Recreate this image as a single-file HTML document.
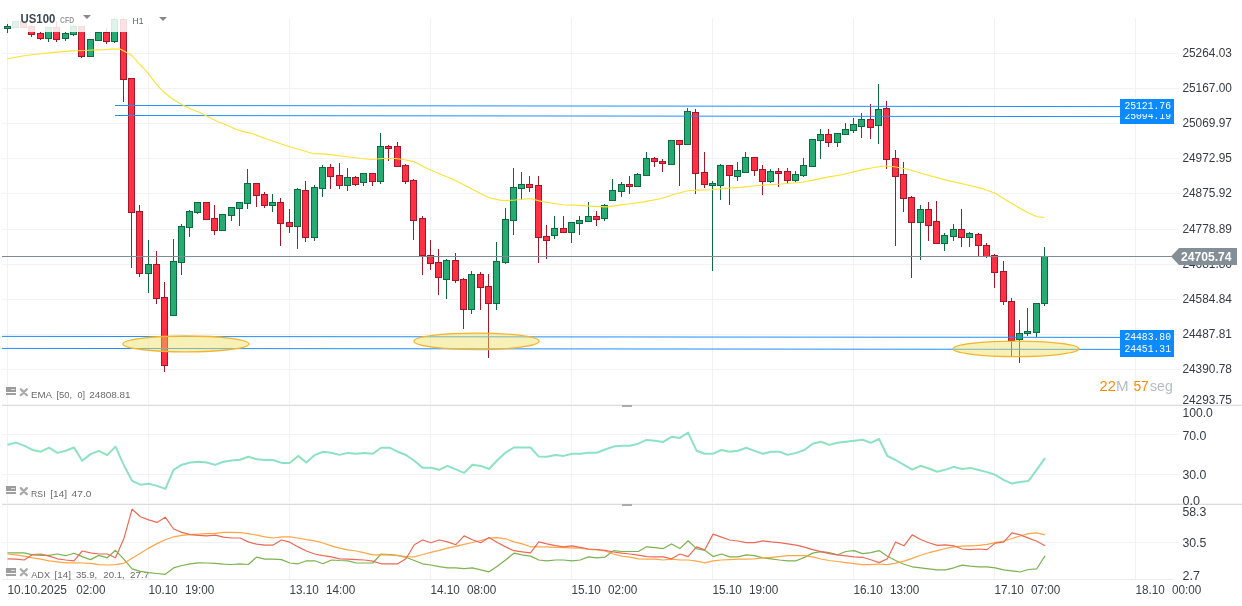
<!DOCTYPE html>
<html><head><meta charset="utf-8"><title>US100 H1</title><style>html,body{margin:0;padding:0;background:#fff;overflow:hidden}svg{display:block;will-change:transform}</style></head><body>
<svg width="1242" height="606" viewBox="0 0 1242 606" shape-rendering="crispEdges">
<rect width="1242" height="606" fill="#fff"/>
<line x1="7.5" y1="18" x2="7.5" y2="580" stroke="#f1f2f5" stroke-width="1"/>
<line x1="148.5" y1="18" x2="148.5" y2="580" stroke="#f1f2f5" stroke-width="1"/>
<line x1="289.5" y1="18" x2="289.5" y2="580" stroke="#f1f2f5" stroke-width="1"/>
<line x1="430.5" y1="18" x2="430.5" y2="580" stroke="#f1f2f5" stroke-width="1"/>
<line x1="571.5" y1="18" x2="571.5" y2="580" stroke="#f1f2f5" stroke-width="1"/>
<line x1="712.5" y1="18" x2="712.5" y2="580" stroke="#f1f2f5" stroke-width="1"/>
<line x1="853.5" y1="18" x2="853.5" y2="580" stroke="#f1f2f5" stroke-width="1"/>
<line x1="994.5" y1="18" x2="994.5" y2="580" stroke="#f1f2f5" stroke-width="1"/>
<line x1="1135.5" y1="18" x2="1135.5" y2="580" stroke="#f1f2f5" stroke-width="1"/>
<line x1="2" y1="53.5" x2="1179" y2="53.5" stroke="#f1f2f5"/>
<line x1="2" y1="88.5" x2="1179" y2="88.5" stroke="#f1f2f5"/>
<line x1="2" y1="123.5" x2="1179" y2="123.5" stroke="#f1f2f5"/>
<line x1="2" y1="158.5" x2="1179" y2="158.5" stroke="#f1f2f5"/>
<line x1="2" y1="193.5" x2="1179" y2="193.5" stroke="#f1f2f5"/>
<line x1="2" y1="229.5" x2="1179" y2="229.5" stroke="#f1f2f5"/>
<line x1="2" y1="264.5" x2="1179" y2="264.5" stroke="#f1f2f5"/>
<line x1="2" y1="299.5" x2="1179" y2="299.5" stroke="#f1f2f5"/>
<line x1="2" y1="334.5" x2="1179" y2="334.5" stroke="#f1f2f5"/>
<line x1="2" y1="369.5" x2="1179" y2="369.5" stroke="#f1f2f5"/>
<line x1="2" y1="434.5" x2="1179" y2="434.5" stroke="#f1f2f5"/>
<line x1="2" y1="474.5" x2="1179" y2="474.5" stroke="#f1f2f5"/>
<line x1="2" y1="542.5" x2="1179" y2="542.5" stroke="#f1f2f5"/>
<line x1="2" y1="404.5" x2="1242" y2="404.5" stroke="#f4f4f4"/>
<line x1="2" y1="405.5" x2="1242" y2="405.5" stroke="#dcdcdc"/>
<rect x="622" y="405" width="10" height="2" fill="#ababab"/>
<line x1="2" y1="503.5" x2="1242" y2="503.5" stroke="#f4f4f4"/>
<line x1="2" y1="504.5" x2="1242" y2="504.5" stroke="#dcdcdc"/>
<rect x="622" y="504" width="10" height="2" fill="#ababab"/>
<line x1="2" y1="579.5" x2="1174" y2="579.5" stroke="#ececec"/>
<rect x="7" y="24" width="1" height="2" fill="#0d6a3f"/>
<rect x="7" y="29" width="1" height="4" fill="#0d6a3f"/>
<rect x="4" y="26" width="7" height="3" fill="#0d6a3f"/>
<rect x="5" y="27" width="5" height="1" fill="#26ab72"/>
<rect x="12" y="21" width="7" height="7" fill="#0d6a3f"/>
<rect x="13" y="22" width="5" height="5" fill="#26ab72"/>
<rect x="20" y="21" width="7" height="7" fill="#a3172a"/>
<rect x="21" y="22" width="5" height="5" fill="#fd3044"/>
<rect x="31" y="25" width="1" height="1" fill="#a3172a"/>
<rect x="31" y="35" width="1" height="2" fill="#a3172a"/>
<rect x="28" y="26" width="7" height="9" fill="#a3172a"/>
<rect x="29" y="27" width="5" height="7" fill="#fd3044"/>
<rect x="40" y="32" width="1" height="1" fill="#a3172a"/>
<rect x="40" y="39" width="1" height="1" fill="#a3172a"/>
<rect x="37" y="33" width="7" height="6" fill="#a3172a"/>
<rect x="38" y="34" width="5" height="4" fill="#fd3044"/>
<rect x="48" y="39" width="1" height="3" fill="#0d6a3f"/>
<rect x="45" y="27" width="7" height="12" fill="#0d6a3f"/>
<rect x="46" y="28" width="5" height="10" fill="#26ab72"/>
<rect x="56" y="21" width="1" height="6" fill="#a3172a"/>
<rect x="56" y="40" width="1" height="2" fill="#a3172a"/>
<rect x="53" y="27" width="7" height="13" fill="#a3172a"/>
<rect x="54" y="28" width="5" height="11" fill="#fd3044"/>
<rect x="65" y="32" width="1" height="1" fill="#0d6a3f"/>
<rect x="65" y="39" width="1" height="2" fill="#0d6a3f"/>
<rect x="62" y="33" width="7" height="6" fill="#0d6a3f"/>
<rect x="63" y="34" width="5" height="4" fill="#26ab72"/>
<rect x="73" y="25" width="1" height="1" fill="#0d6a3f"/>
<rect x="73" y="35" width="1" height="1" fill="#0d6a3f"/>
<rect x="70" y="26" width="7" height="9" fill="#0d6a3f"/>
<rect x="71" y="27" width="5" height="7" fill="#26ab72"/>
<rect x="81" y="57" width="1" height="1" fill="#a3172a"/>
<rect x="78" y="26" width="7" height="31" fill="#a3172a"/>
<rect x="79" y="27" width="5" height="29" fill="#fd3044"/>
<rect x="87" y="39" width="7" height="18" fill="#0d6a3f"/>
<rect x="88" y="40" width="5" height="16" fill="#26ab72"/>
<rect x="95" y="32" width="7" height="9" fill="#0d6a3f"/>
<rect x="96" y="33" width="5" height="7" fill="#26ab72"/>
<rect x="106" y="28" width="1" height="4" fill="#a3172a"/>
<rect x="106" y="42" width="1" height="2" fill="#a3172a"/>
<rect x="103" y="32" width="7" height="10" fill="#a3172a"/>
<rect x="104" y="33" width="5" height="8" fill="#fd3044"/>
<rect x="114" y="18" width="1" height="1" fill="#0d6a3f"/>
<rect x="114" y="42" width="1" height="1" fill="#0d6a3f"/>
<rect x="111" y="19" width="7" height="23" fill="#0d6a3f"/>
<rect x="112" y="20" width="5" height="21" fill="#26ab72"/>
<rect x="123" y="18" width="1" height="1" fill="#a3172a"/>
<rect x="123" y="80" width="1" height="22" fill="#a3172a"/>
<rect x="120" y="19" width="7" height="61" fill="#a3172a"/>
<rect x="121" y="20" width="5" height="59" fill="#fd3044"/>
<rect x="131" y="213" width="1" height="55" fill="#a3172a"/>
<rect x="128" y="78" width="7" height="135" fill="#a3172a"/>
<rect x="129" y="79" width="5" height="133" fill="#fd3044"/>
<rect x="139" y="205" width="1" height="6" fill="#a3172a"/>
<rect x="139" y="274" width="1" height="3" fill="#a3172a"/>
<rect x="136" y="211" width="7" height="63" fill="#a3172a"/>
<rect x="137" y="212" width="5" height="61" fill="#fd3044"/>
<rect x="148" y="240" width="1" height="24" fill="#0d6a3f"/>
<rect x="148" y="274" width="1" height="19" fill="#0d6a3f"/>
<rect x="145" y="264" width="7" height="10" fill="#0d6a3f"/>
<rect x="146" y="265" width="5" height="8" fill="#26ab72"/>
<rect x="156" y="251" width="1" height="13" fill="#a3172a"/>
<rect x="156" y="299" width="1" height="5" fill="#a3172a"/>
<rect x="153" y="264" width="7" height="35" fill="#a3172a"/>
<rect x="154" y="265" width="5" height="33" fill="#fd3044"/>
<rect x="164" y="282" width="1" height="15" fill="#a3172a"/>
<rect x="164" y="366" width="1" height="6" fill="#a3172a"/>
<rect x="161" y="297" width="7" height="69" fill="#a3172a"/>
<rect x="162" y="298" width="5" height="67" fill="#fd3044"/>
<rect x="173" y="239" width="1" height="22" fill="#0d6a3f"/>
<rect x="170" y="261" width="7" height="55" fill="#0d6a3f"/>
<rect x="171" y="262" width="5" height="53" fill="#26ab72"/>
<rect x="181" y="224" width="1" height="2" fill="#0d6a3f"/>
<rect x="181" y="263" width="1" height="12" fill="#0d6a3f"/>
<rect x="178" y="226" width="7" height="37" fill="#0d6a3f"/>
<rect x="179" y="227" width="5" height="35" fill="#26ab72"/>
<rect x="189" y="210" width="1" height="1" fill="#0d6a3f"/>
<rect x="189" y="228" width="1" height="9" fill="#0d6a3f"/>
<rect x="186" y="211" width="7" height="17" fill="#0d6a3f"/>
<rect x="187" y="212" width="5" height="15" fill="#26ab72"/>
<rect x="197" y="213" width="1" height="1" fill="#0d6a3f"/>
<rect x="194" y="202" width="7" height="11" fill="#0d6a3f"/>
<rect x="195" y="203" width="5" height="9" fill="#26ab72"/>
<rect x="203" y="202" width="7" height="18" fill="#a3172a"/>
<rect x="204" y="203" width="5" height="16" fill="#fd3044"/>
<rect x="214" y="205" width="1" height="13" fill="#a3172a"/>
<rect x="214" y="231" width="1" height="4" fill="#a3172a"/>
<rect x="211" y="218" width="7" height="13" fill="#a3172a"/>
<rect x="212" y="219" width="5" height="11" fill="#fd3044"/>
<rect x="219" y="214" width="7" height="17" fill="#0d6a3f"/>
<rect x="220" y="215" width="5" height="15" fill="#26ab72"/>
<rect x="231" y="216" width="1" height="5" fill="#0d6a3f"/>
<rect x="228" y="207" width="7" height="9" fill="#0d6a3f"/>
<rect x="229" y="208" width="5" height="7" fill="#26ab72"/>
<rect x="239" y="209" width="1" height="17" fill="#0d6a3f"/>
<rect x="236" y="202" width="7" height="7" fill="#0d6a3f"/>
<rect x="237" y="203" width="5" height="5" fill="#26ab72"/>
<rect x="247" y="169" width="1" height="14" fill="#0d6a3f"/>
<rect x="247" y="204" width="1" height="5" fill="#0d6a3f"/>
<rect x="244" y="183" width="7" height="21" fill="#0d6a3f"/>
<rect x="245" y="184" width="5" height="19" fill="#26ab72"/>
<rect x="256" y="196" width="1" height="11" fill="#a3172a"/>
<rect x="253" y="183" width="7" height="13" fill="#a3172a"/>
<rect x="254" y="184" width="5" height="11" fill="#fd3044"/>
<rect x="264" y="192" width="1" height="2" fill="#a3172a"/>
<rect x="264" y="206" width="1" height="2" fill="#a3172a"/>
<rect x="261" y="194" width="7" height="12" fill="#a3172a"/>
<rect x="262" y="195" width="5" height="10" fill="#fd3044"/>
<rect x="272" y="194" width="1" height="8" fill="#0d6a3f"/>
<rect x="272" y="206" width="1" height="6" fill="#0d6a3f"/>
<rect x="269" y="202" width="7" height="4" fill="#0d6a3f"/>
<rect x="270" y="203" width="5" height="2" fill="#26ab72"/>
<rect x="280" y="198" width="1" height="4" fill="#a3172a"/>
<rect x="280" y="224" width="1" height="22" fill="#a3172a"/>
<rect x="277" y="202" width="7" height="22" fill="#a3172a"/>
<rect x="278" y="203" width="5" height="20" fill="#fd3044"/>
<rect x="289" y="209" width="1" height="13" fill="#a3172a"/>
<rect x="289" y="227" width="1" height="6" fill="#a3172a"/>
<rect x="286" y="222" width="7" height="5" fill="#a3172a"/>
<rect x="287" y="223" width="5" height="3" fill="#fd3044"/>
<rect x="297" y="188" width="1" height="1" fill="#0d6a3f"/>
<rect x="297" y="227" width="1" height="22" fill="#0d6a3f"/>
<rect x="294" y="189" width="7" height="38" fill="#0d6a3f"/>
<rect x="295" y="190" width="5" height="36" fill="#26ab72"/>
<rect x="305" y="181" width="1" height="9" fill="#a3172a"/>
<rect x="305" y="238" width="1" height="4" fill="#a3172a"/>
<rect x="302" y="190" width="7" height="48" fill="#a3172a"/>
<rect x="303" y="191" width="5" height="46" fill="#fd3044"/>
<rect x="314" y="185" width="1" height="2" fill="#0d6a3f"/>
<rect x="314" y="238" width="1" height="3" fill="#0d6a3f"/>
<rect x="311" y="187" width="7" height="51" fill="#0d6a3f"/>
<rect x="312" y="188" width="5" height="49" fill="#26ab72"/>
<rect x="322" y="165" width="1" height="2" fill="#0d6a3f"/>
<rect x="322" y="189" width="1" height="8" fill="#0d6a3f"/>
<rect x="319" y="167" width="7" height="22" fill="#0d6a3f"/>
<rect x="320" y="168" width="5" height="20" fill="#26ab72"/>
<rect x="330" y="164" width="1" height="3" fill="#a3172a"/>
<rect x="330" y="177" width="1" height="12" fill="#a3172a"/>
<rect x="327" y="167" width="7" height="10" fill="#a3172a"/>
<rect x="328" y="168" width="5" height="8" fill="#fd3044"/>
<rect x="339" y="163" width="1" height="12" fill="#a3172a"/>
<rect x="339" y="186" width="1" height="3" fill="#a3172a"/>
<rect x="336" y="175" width="7" height="11" fill="#a3172a"/>
<rect x="337" y="176" width="5" height="9" fill="#fd3044"/>
<rect x="347" y="168" width="1" height="9" fill="#0d6a3f"/>
<rect x="347" y="186" width="1" height="5" fill="#0d6a3f"/>
<rect x="344" y="177" width="7" height="9" fill="#0d6a3f"/>
<rect x="345" y="178" width="5" height="7" fill="#26ab72"/>
<rect x="355" y="176" width="1" height="1" fill="#a3172a"/>
<rect x="355" y="185" width="1" height="1" fill="#a3172a"/>
<rect x="352" y="177" width="7" height="8" fill="#a3172a"/>
<rect x="353" y="178" width="5" height="6" fill="#fd3044"/>
<rect x="363" y="183" width="1" height="3" fill="#0d6a3f"/>
<rect x="360" y="173" width="7" height="10" fill="#0d6a3f"/>
<rect x="361" y="174" width="5" height="8" fill="#26ab72"/>
<rect x="372" y="182" width="1" height="4" fill="#a3172a"/>
<rect x="369" y="173" width="7" height="9" fill="#a3172a"/>
<rect x="370" y="174" width="5" height="7" fill="#fd3044"/>
<rect x="380" y="133" width="1" height="13" fill="#0d6a3f"/>
<rect x="380" y="182" width="1" height="2" fill="#0d6a3f"/>
<rect x="377" y="146" width="7" height="36" fill="#0d6a3f"/>
<rect x="378" y="147" width="5" height="34" fill="#26ab72"/>
<rect x="388" y="145" width="1" height="1" fill="#a3172a"/>
<rect x="388" y="149" width="1" height="12" fill="#a3172a"/>
<rect x="385" y="146" width="7" height="3" fill="#a3172a"/>
<rect x="386" y="147" width="5" height="1" fill="#fd3044"/>
<rect x="397" y="142" width="1" height="4" fill="#a3172a"/>
<rect x="394" y="146" width="7" height="21" fill="#a3172a"/>
<rect x="395" y="147" width="5" height="19" fill="#fd3044"/>
<rect x="405" y="164" width="1" height="1" fill="#a3172a"/>
<rect x="405" y="182" width="1" height="2" fill="#a3172a"/>
<rect x="402" y="165" width="7" height="17" fill="#a3172a"/>
<rect x="403" y="166" width="5" height="15" fill="#fd3044"/>
<rect x="413" y="179" width="1" height="1" fill="#a3172a"/>
<rect x="413" y="221" width="1" height="19" fill="#a3172a"/>
<rect x="410" y="180" width="7" height="41" fill="#a3172a"/>
<rect x="411" y="181" width="5" height="39" fill="#fd3044"/>
<rect x="422" y="216" width="1" height="2" fill="#a3172a"/>
<rect x="422" y="256" width="1" height="19" fill="#a3172a"/>
<rect x="419" y="218" width="7" height="38" fill="#a3172a"/>
<rect x="420" y="219" width="5" height="36" fill="#fd3044"/>
<rect x="430" y="240" width="1" height="15" fill="#a3172a"/>
<rect x="430" y="264" width="1" height="6" fill="#a3172a"/>
<rect x="427" y="255" width="7" height="9" fill="#a3172a"/>
<rect x="428" y="256" width="5" height="7" fill="#fd3044"/>
<rect x="438" y="249" width="1" height="13" fill="#a3172a"/>
<rect x="438" y="278" width="1" height="17" fill="#a3172a"/>
<rect x="435" y="262" width="7" height="16" fill="#a3172a"/>
<rect x="436" y="263" width="5" height="14" fill="#fd3044"/>
<rect x="446" y="259" width="1" height="1" fill="#0d6a3f"/>
<rect x="446" y="280" width="1" height="19" fill="#0d6a3f"/>
<rect x="443" y="260" width="7" height="20" fill="#0d6a3f"/>
<rect x="444" y="261" width="5" height="18" fill="#26ab72"/>
<rect x="455" y="253" width="1" height="7" fill="#a3172a"/>
<rect x="455" y="281" width="1" height="2" fill="#a3172a"/>
<rect x="452" y="260" width="7" height="21" fill="#a3172a"/>
<rect x="453" y="261" width="5" height="19" fill="#fd3044"/>
<rect x="463" y="278" width="1" height="1" fill="#a3172a"/>
<rect x="463" y="310" width="1" height="19" fill="#a3172a"/>
<rect x="460" y="279" width="7" height="31" fill="#a3172a"/>
<rect x="461" y="280" width="5" height="29" fill="#fd3044"/>
<rect x="471" y="271" width="1" height="3" fill="#0d6a3f"/>
<rect x="471" y="310" width="1" height="4" fill="#0d6a3f"/>
<rect x="468" y="274" width="7" height="36" fill="#0d6a3f"/>
<rect x="469" y="275" width="5" height="34" fill="#26ab72"/>
<rect x="480" y="272" width="1" height="2" fill="#a3172a"/>
<rect x="480" y="288" width="1" height="22" fill="#a3172a"/>
<rect x="477" y="274" width="7" height="14" fill="#a3172a"/>
<rect x="478" y="275" width="5" height="12" fill="#fd3044"/>
<rect x="488" y="274" width="1" height="12" fill="#a3172a"/>
<rect x="488" y="304" width="1" height="54" fill="#a3172a"/>
<rect x="485" y="286" width="7" height="18" fill="#a3172a"/>
<rect x="486" y="287" width="5" height="16" fill="#fd3044"/>
<rect x="496" y="242" width="1" height="19" fill="#0d6a3f"/>
<rect x="496" y="304" width="1" height="6" fill="#0d6a3f"/>
<rect x="493" y="261" width="7" height="43" fill="#0d6a3f"/>
<rect x="494" y="262" width="5" height="41" fill="#26ab72"/>
<rect x="505" y="208" width="1" height="11" fill="#0d6a3f"/>
<rect x="505" y="263" width="1" height="1" fill="#0d6a3f"/>
<rect x="502" y="219" width="7" height="44" fill="#0d6a3f"/>
<rect x="503" y="220" width="5" height="42" fill="#26ab72"/>
<rect x="513" y="168" width="1" height="19" fill="#0d6a3f"/>
<rect x="513" y="221" width="1" height="14" fill="#0d6a3f"/>
<rect x="510" y="187" width="7" height="34" fill="#0d6a3f"/>
<rect x="511" y="188" width="5" height="32" fill="#26ab72"/>
<rect x="521" y="172" width="1" height="12" fill="#0d6a3f"/>
<rect x="521" y="189" width="1" height="11" fill="#0d6a3f"/>
<rect x="518" y="184" width="7" height="5" fill="#0d6a3f"/>
<rect x="519" y="185" width="5" height="3" fill="#26ab72"/>
<rect x="529" y="176" width="1" height="8" fill="#a3172a"/>
<rect x="529" y="188" width="1" height="4" fill="#a3172a"/>
<rect x="526" y="184" width="7" height="4" fill="#a3172a"/>
<rect x="527" y="185" width="5" height="2" fill="#fd3044"/>
<rect x="538" y="176" width="1" height="9" fill="#a3172a"/>
<rect x="538" y="238" width="1" height="25" fill="#a3172a"/>
<rect x="535" y="185" width="7" height="53" fill="#a3172a"/>
<rect x="536" y="186" width="5" height="51" fill="#fd3044"/>
<rect x="546" y="225" width="1" height="11" fill="#a3172a"/>
<rect x="546" y="241" width="1" height="18" fill="#a3172a"/>
<rect x="543" y="236" width="7" height="5" fill="#a3172a"/>
<rect x="544" y="237" width="5" height="3" fill="#fd3044"/>
<rect x="554" y="216" width="1" height="12" fill="#0d6a3f"/>
<rect x="554" y="236" width="1" height="3" fill="#0d6a3f"/>
<rect x="551" y="228" width="7" height="8" fill="#0d6a3f"/>
<rect x="552" y="229" width="5" height="6" fill="#26ab72"/>
<rect x="563" y="216" width="1" height="12" fill="#a3172a"/>
<rect x="560" y="228" width="7" height="5" fill="#a3172a"/>
<rect x="561" y="229" width="5" height="3" fill="#fd3044"/>
<rect x="571" y="233" width="1" height="10" fill="#0d6a3f"/>
<rect x="568" y="222" width="7" height="11" fill="#0d6a3f"/>
<rect x="569" y="223" width="5" height="9" fill="#26ab72"/>
<rect x="579" y="216" width="1" height="4" fill="#0d6a3f"/>
<rect x="579" y="224" width="1" height="11" fill="#0d6a3f"/>
<rect x="576" y="220" width="7" height="4" fill="#0d6a3f"/>
<rect x="577" y="221" width="5" height="2" fill="#26ab72"/>
<rect x="588" y="202" width="1" height="14" fill="#0d6a3f"/>
<rect x="585" y="216" width="7" height="6" fill="#0d6a3f"/>
<rect x="586" y="217" width="5" height="4" fill="#26ab72"/>
<rect x="596" y="211" width="1" height="5" fill="#a3172a"/>
<rect x="596" y="220" width="1" height="6" fill="#a3172a"/>
<rect x="593" y="216" width="7" height="4" fill="#a3172a"/>
<rect x="594" y="217" width="5" height="2" fill="#fd3044"/>
<rect x="604" y="204" width="1" height="1" fill="#0d6a3f"/>
<rect x="604" y="219" width="1" height="2" fill="#0d6a3f"/>
<rect x="601" y="205" width="7" height="14" fill="#0d6a3f"/>
<rect x="602" y="206" width="5" height="12" fill="#26ab72"/>
<rect x="612" y="179" width="1" height="11" fill="#0d6a3f"/>
<rect x="609" y="190" width="7" height="11" fill="#0d6a3f"/>
<rect x="610" y="191" width="5" height="9" fill="#26ab72"/>
<rect x="621" y="182" width="1" height="2" fill="#0d6a3f"/>
<rect x="621" y="192" width="1" height="5" fill="#0d6a3f"/>
<rect x="618" y="184" width="7" height="8" fill="#0d6a3f"/>
<rect x="619" y="185" width="5" height="6" fill="#26ab72"/>
<rect x="629" y="176" width="1" height="8" fill="#a3172a"/>
<rect x="629" y="187" width="1" height="7" fill="#a3172a"/>
<rect x="626" y="184" width="7" height="3" fill="#a3172a"/>
<rect x="627" y="185" width="5" height="1" fill="#fd3044"/>
<rect x="637" y="173" width="1" height="1" fill="#0d6a3f"/>
<rect x="634" y="174" width="7" height="13" fill="#0d6a3f"/>
<rect x="635" y="175" width="5" height="11" fill="#26ab72"/>
<rect x="646" y="152" width="1" height="6" fill="#0d6a3f"/>
<rect x="643" y="158" width="7" height="18" fill="#0d6a3f"/>
<rect x="644" y="159" width="5" height="16" fill="#26ab72"/>
<rect x="654" y="157" width="1" height="1" fill="#a3172a"/>
<rect x="654" y="162" width="1" height="5" fill="#a3172a"/>
<rect x="651" y="158" width="7" height="4" fill="#a3172a"/>
<rect x="652" y="159" width="5" height="2" fill="#fd3044"/>
<rect x="662" y="159" width="1" height="2" fill="#a3172a"/>
<rect x="662" y="164" width="1" height="8" fill="#a3172a"/>
<rect x="659" y="161" width="7" height="3" fill="#a3172a"/>
<rect x="660" y="162" width="5" height="1" fill="#fd3044"/>
<rect x="668" y="140" width="7" height="25" fill="#0d6a3f"/>
<rect x="669" y="141" width="5" height="23" fill="#26ab72"/>
<rect x="679" y="145" width="1" height="41" fill="#a3172a"/>
<rect x="676" y="140" width="7" height="5" fill="#a3172a"/>
<rect x="677" y="141" width="5" height="3" fill="#fd3044"/>
<rect x="687" y="108" width="1" height="3" fill="#0d6a3f"/>
<rect x="684" y="111" width="7" height="34" fill="#0d6a3f"/>
<rect x="685" y="112" width="5" height="32" fill="#26ab72"/>
<rect x="695" y="109" width="1" height="3" fill="#a3172a"/>
<rect x="695" y="174" width="1" height="20" fill="#a3172a"/>
<rect x="692" y="112" width="7" height="62" fill="#a3172a"/>
<rect x="693" y="113" width="5" height="60" fill="#fd3044"/>
<rect x="704" y="152" width="1" height="20" fill="#a3172a"/>
<rect x="704" y="185" width="1" height="3" fill="#a3172a"/>
<rect x="701" y="172" width="7" height="13" fill="#a3172a"/>
<rect x="702" y="173" width="5" height="11" fill="#fd3044"/>
<rect x="712" y="181" width="1" height="2" fill="#0d6a3f"/>
<rect x="712" y="186" width="1" height="85" fill="#0d6a3f"/>
<rect x="709" y="183" width="7" height="3" fill="#0d6a3f"/>
<rect x="710" y="184" width="5" height="1" fill="#26ab72"/>
<rect x="720" y="164" width="1" height="1" fill="#0d6a3f"/>
<rect x="720" y="186" width="1" height="14" fill="#0d6a3f"/>
<rect x="717" y="165" width="7" height="21" fill="#0d6a3f"/>
<rect x="718" y="166" width="5" height="19" fill="#26ab72"/>
<rect x="729" y="176" width="1" height="29" fill="#a3172a"/>
<rect x="726" y="165" width="7" height="11" fill="#a3172a"/>
<rect x="727" y="166" width="5" height="9" fill="#fd3044"/>
<rect x="737" y="162" width="1" height="8" fill="#0d6a3f"/>
<rect x="737" y="177" width="1" height="4" fill="#0d6a3f"/>
<rect x="734" y="170" width="7" height="7" fill="#0d6a3f"/>
<rect x="735" y="171" width="5" height="5" fill="#26ab72"/>
<rect x="745" y="152" width="1" height="5" fill="#0d6a3f"/>
<rect x="742" y="157" width="7" height="16" fill="#0d6a3f"/>
<rect x="743" y="158" width="5" height="14" fill="#26ab72"/>
<rect x="754" y="171" width="1" height="5" fill="#a3172a"/>
<rect x="751" y="157" width="7" height="14" fill="#a3172a"/>
<rect x="752" y="158" width="5" height="12" fill="#fd3044"/>
<rect x="762" y="165" width="1" height="4" fill="#a3172a"/>
<rect x="762" y="182" width="1" height="13" fill="#a3172a"/>
<rect x="759" y="169" width="7" height="13" fill="#a3172a"/>
<rect x="760" y="170" width="5" height="11" fill="#fd3044"/>
<rect x="770" y="169" width="1" height="2" fill="#0d6a3f"/>
<rect x="770" y="182" width="1" height="1" fill="#0d6a3f"/>
<rect x="767" y="171" width="7" height="11" fill="#0d6a3f"/>
<rect x="768" y="172" width="5" height="9" fill="#26ab72"/>
<rect x="778" y="168" width="1" height="3" fill="#a3172a"/>
<rect x="778" y="174" width="1" height="13" fill="#a3172a"/>
<rect x="775" y="171" width="7" height="3" fill="#a3172a"/>
<rect x="776" y="172" width="5" height="1" fill="#fd3044"/>
<rect x="787" y="168" width="1" height="3" fill="#a3172a"/>
<rect x="787" y="181" width="1" height="2" fill="#a3172a"/>
<rect x="784" y="171" width="7" height="10" fill="#a3172a"/>
<rect x="785" y="172" width="5" height="8" fill="#fd3044"/>
<rect x="795" y="171" width="1" height="3" fill="#0d6a3f"/>
<rect x="795" y="181" width="1" height="1" fill="#0d6a3f"/>
<rect x="792" y="174" width="7" height="7" fill="#0d6a3f"/>
<rect x="793" y="175" width="5" height="5" fill="#26ab72"/>
<rect x="803" y="158" width="1" height="7" fill="#0d6a3f"/>
<rect x="803" y="176" width="1" height="1" fill="#0d6a3f"/>
<rect x="800" y="165" width="7" height="11" fill="#0d6a3f"/>
<rect x="801" y="166" width="5" height="9" fill="#26ab72"/>
<rect x="809" y="139" width="7" height="28" fill="#0d6a3f"/>
<rect x="810" y="140" width="5" height="26" fill="#26ab72"/>
<rect x="820" y="129" width="1" height="5" fill="#0d6a3f"/>
<rect x="820" y="141" width="1" height="18" fill="#0d6a3f"/>
<rect x="817" y="134" width="7" height="7" fill="#0d6a3f"/>
<rect x="818" y="135" width="5" height="5" fill="#26ab72"/>
<rect x="828" y="129" width="1" height="5" fill="#a3172a"/>
<rect x="828" y="143" width="1" height="4" fill="#a3172a"/>
<rect x="825" y="134" width="7" height="9" fill="#a3172a"/>
<rect x="826" y="135" width="5" height="7" fill="#fd3044"/>
<rect x="837" y="143" width="1" height="4" fill="#0d6a3f"/>
<rect x="834" y="133" width="7" height="10" fill="#0d6a3f"/>
<rect x="835" y="134" width="5" height="8" fill="#26ab72"/>
<rect x="845" y="123" width="1" height="6" fill="#0d6a3f"/>
<rect x="842" y="129" width="7" height="6" fill="#0d6a3f"/>
<rect x="843" y="130" width="5" height="4" fill="#26ab72"/>
<rect x="853" y="118" width="1" height="6" fill="#0d6a3f"/>
<rect x="853" y="131" width="1" height="2" fill="#0d6a3f"/>
<rect x="850" y="124" width="7" height="7" fill="#0d6a3f"/>
<rect x="851" y="125" width="5" height="5" fill="#26ab72"/>
<rect x="861" y="113" width="1" height="6" fill="#0d6a3f"/>
<rect x="861" y="127" width="1" height="11" fill="#0d6a3f"/>
<rect x="858" y="119" width="7" height="8" fill="#0d6a3f"/>
<rect x="859" y="120" width="5" height="6" fill="#26ab72"/>
<rect x="870" y="104" width="1" height="15" fill="#a3172a"/>
<rect x="870" y="128" width="1" height="11" fill="#a3172a"/>
<rect x="867" y="119" width="7" height="9" fill="#a3172a"/>
<rect x="868" y="120" width="5" height="7" fill="#fd3044"/>
<rect x="878" y="84" width="1" height="25" fill="#0d6a3f"/>
<rect x="878" y="126" width="1" height="18" fill="#0d6a3f"/>
<rect x="875" y="109" width="7" height="17" fill="#0d6a3f"/>
<rect x="876" y="110" width="5" height="15" fill="#26ab72"/>
<rect x="886" y="101" width="1" height="7" fill="#a3172a"/>
<rect x="886" y="160" width="1" height="9" fill="#a3172a"/>
<rect x="883" y="108" width="7" height="52" fill="#a3172a"/>
<rect x="884" y="109" width="5" height="50" fill="#fd3044"/>
<rect x="895" y="150" width="1" height="8" fill="#a3172a"/>
<rect x="895" y="177" width="1" height="69" fill="#a3172a"/>
<rect x="892" y="158" width="7" height="19" fill="#a3172a"/>
<rect x="893" y="159" width="5" height="17" fill="#fd3044"/>
<rect x="903" y="162" width="1" height="12" fill="#a3172a"/>
<rect x="903" y="199" width="1" height="13" fill="#a3172a"/>
<rect x="900" y="174" width="7" height="25" fill="#a3172a"/>
<rect x="901" y="175" width="5" height="23" fill="#fd3044"/>
<rect x="911" y="196" width="1" height="1" fill="#a3172a"/>
<rect x="911" y="223" width="1" height="55" fill="#a3172a"/>
<rect x="908" y="197" width="7" height="26" fill="#a3172a"/>
<rect x="909" y="198" width="5" height="24" fill="#fd3044"/>
<rect x="920" y="205" width="1" height="4" fill="#0d6a3f"/>
<rect x="920" y="223" width="1" height="37" fill="#0d6a3f"/>
<rect x="917" y="209" width="7" height="14" fill="#0d6a3f"/>
<rect x="918" y="210" width="5" height="12" fill="#26ab72"/>
<rect x="928" y="202" width="1" height="7" fill="#a3172a"/>
<rect x="928" y="226" width="1" height="15" fill="#a3172a"/>
<rect x="925" y="209" width="7" height="17" fill="#a3172a"/>
<rect x="926" y="210" width="5" height="15" fill="#fd3044"/>
<rect x="936" y="201" width="1" height="20" fill="#a3172a"/>
<rect x="933" y="221" width="7" height="23" fill="#a3172a"/>
<rect x="934" y="222" width="5" height="21" fill="#fd3044"/>
<rect x="944" y="233" width="1" height="2" fill="#0d6a3f"/>
<rect x="944" y="244" width="1" height="7" fill="#0d6a3f"/>
<rect x="941" y="235" width="7" height="9" fill="#0d6a3f"/>
<rect x="942" y="236" width="5" height="7" fill="#26ab72"/>
<rect x="953" y="224" width="1" height="5" fill="#0d6a3f"/>
<rect x="953" y="237" width="1" height="4" fill="#0d6a3f"/>
<rect x="950" y="229" width="7" height="8" fill="#0d6a3f"/>
<rect x="951" y="230" width="5" height="6" fill="#26ab72"/>
<rect x="961" y="209" width="1" height="20" fill="#a3172a"/>
<rect x="961" y="238" width="1" height="9" fill="#a3172a"/>
<rect x="958" y="229" width="7" height="9" fill="#a3172a"/>
<rect x="959" y="230" width="5" height="7" fill="#fd3044"/>
<rect x="969" y="232" width="1" height="1" fill="#0d6a3f"/>
<rect x="969" y="238" width="1" height="9" fill="#0d6a3f"/>
<rect x="966" y="233" width="7" height="5" fill="#0d6a3f"/>
<rect x="967" y="234" width="5" height="3" fill="#26ab72"/>
<rect x="978" y="233" width="1" height="1" fill="#a3172a"/>
<rect x="978" y="246" width="1" height="10" fill="#a3172a"/>
<rect x="975" y="234" width="7" height="12" fill="#a3172a"/>
<rect x="976" y="235" width="5" height="10" fill="#fd3044"/>
<rect x="986" y="243" width="1" height="2" fill="#a3172a"/>
<rect x="986" y="257" width="1" height="1" fill="#a3172a"/>
<rect x="983" y="245" width="7" height="12" fill="#a3172a"/>
<rect x="984" y="246" width="5" height="10" fill="#fd3044"/>
<rect x="994" y="254" width="1" height="1" fill="#a3172a"/>
<rect x="994" y="273" width="1" height="15" fill="#a3172a"/>
<rect x="991" y="255" width="7" height="18" fill="#a3172a"/>
<rect x="992" y="256" width="5" height="16" fill="#fd3044"/>
<rect x="1003" y="261" width="1" height="10" fill="#a3172a"/>
<rect x="1003" y="302" width="1" height="3" fill="#a3172a"/>
<rect x="1000" y="271" width="7" height="31" fill="#a3172a"/>
<rect x="1001" y="272" width="5" height="29" fill="#fd3044"/>
<rect x="1011" y="298" width="1" height="3" fill="#a3172a"/>
<rect x="1011" y="341" width="1" height="16" fill="#a3172a"/>
<rect x="1008" y="301" width="7" height="40" fill="#a3172a"/>
<rect x="1009" y="302" width="5" height="38" fill="#fd3044"/>
<rect x="1019" y="320" width="1" height="13" fill="#0d6a3f"/>
<rect x="1019" y="340" width="1" height="23" fill="#0d6a3f"/>
<rect x="1016" y="333" width="7" height="7" fill="#0d6a3f"/>
<rect x="1017" y="334" width="5" height="5" fill="#26ab72"/>
<rect x="1027" y="308" width="1" height="23" fill="#0d6a3f"/>
<rect x="1027" y="334" width="1" height="2" fill="#0d6a3f"/>
<rect x="1024" y="331" width="7" height="3" fill="#0d6a3f"/>
<rect x="1025" y="332" width="5" height="1" fill="#26ab72"/>
<rect x="1036" y="333" width="1" height="4" fill="#0d6a3f"/>
<rect x="1033" y="303" width="7" height="30" fill="#0d6a3f"/>
<rect x="1034" y="304" width="5" height="28" fill="#26ab72"/>
<rect x="1044" y="247" width="1" height="9" fill="#0d6a3f"/>
<rect x="1044" y="304" width="1" height="2" fill="#0d6a3f"/>
<rect x="1041" y="256" width="7" height="48" fill="#0d6a3f"/>
<rect x="1042" y="257" width="5" height="46" fill="#26ab72"/>
<line x1="115" y1="105.5" x2="1120" y2="106.6" stroke="#1e8fff" shape-rendering="auto"/>
<line x1="115" y1="115.5" x2="1120" y2="116.6" stroke="#1e8fff" shape-rendering="auto"/>
<line x1="2" y1="336.4" x2="1120" y2="337.4" stroke="#1e8fff" shape-rendering="auto"/>
<line x1="2" y1="348.4" x2="1120" y2="349.4" stroke="#1e8fff" shape-rendering="auto"/>
<line x1="2" y1="256.5" x2="1172" y2="256.5" stroke="#7f8b92"/>
<polyline points="7.4,58.7 24.2,55.7 40.3,53.7 56.4,52.1 72.5,50.9 84.5,50.5 96.6,49.7 100.0,50.0 110.9,49.1 120.0,49.1 127.2,52.7 132.7,56.3 140.0,64.5 147.2,72.1 154.5,81.8 159.9,88.1 164.5,92.7 172.6,99.0 181.7,104.5 190.8,109.0 199.9,112.6 209.0,117.2 218.0,121.7 227.1,125.3 236.2,129.5 245.3,132.1 252.6,133.8 265.1,138.6 277.7,142.8 290.2,147.0 302.8,150.5 313.3,153.7 323.7,153.9 336.3,155.4 348.9,157.0 361.4,158.5 371.9,159.5 382.3,158.5 394.9,158.5 403.3,159.5 413.7,161.6 428.4,168.9 441.0,174.6 453.5,179.4 466.1,186.1 478.6,192.4 489.1,197.8 502.6,200.6 515.1,200.0 529.8,198.5 542.3,201.6 552.8,203.3 563.3,204.8 577.9,205.4 594.7,206.4 607.2,206.9 617.7,205.4 630.3,203.7 644.9,201.6 661.7,198.5 674.2,194.3 688.9,190.5 699.3,190.1 711.9,189.7 724.5,188.4 740.0,187.4 760.6,185.3 781.2,184.0 801.8,182.2 812.1,180.4 827.6,177.1 843.1,174.5 858.5,170.6 874.0,167.5 884.3,166.0 894.6,166.7 907.5,169.3 925.5,174.5 946.1,180.1 966.7,184.8 982.2,188.6 995.1,193.3 1010.5,202.8 1026.0,211.8 1036.3,216.5 1044.6,217.5" fill="none" stroke="#fde232" stroke-width="1.1" stroke-linejoin="round" shape-rendering="auto"/>
<ellipse cx="185.9" cy="343.9" rx="63" ry="7.9" fill="rgba(238,222,96,0.45)" stroke="#f3b52d" stroke-width="1.3" shape-rendering="auto"/>
<ellipse cx="476.5" cy="341.3" rx="62.5" ry="8.25" fill="rgba(238,222,96,0.45)" stroke="#f3b52d" stroke-width="1.3" shape-rendering="auto"/>
<ellipse cx="1016" cy="348.8" rx="62.9" ry="7.75" fill="rgba(238,222,96,0.45)" stroke="#f3b52d" stroke-width="1.3" shape-rendering="auto"/>
<rect x="11" y="0" width="119" height="32" fill="#fff" fill-opacity="0.85"/>
<rect x="130" y="0" width="45" height="27" fill="#fff" fill-opacity="0.96"/>
<text x="20.5" y="22.8" font-family="'Liberation Sans', Arial, sans-serif" font-size="12.2" font-weight="bold" fill="#3b4752" textLength="34.8" lengthAdjust="spacingAndGlyphs">US100</text>
<text x="60" y="22.8" font-family="'Liberation Sans', Arial, sans-serif" font-size="9" font-weight="bold" fill="#9a9a9a" textLength="14.1" lengthAdjust="spacingAndGlyphs">CFD</text>
<path d="M83,15 L91,15 L87,19 Z" fill="#888" shape-rendering="auto"/>
<text x="132.6" y="24" font-family="'Liberation Sans', Arial, sans-serif" font-size="9.6" fill="#5b6670" textLength="10.9" lengthAdjust="spacingAndGlyphs">H1</text>
<path d="M159,17 L167,17 L163,21 Z" fill="#888" shape-rendering="auto"/>
<rect x="6" y="387.4" width="10" height="5" fill="#9c9c9c"/>
<rect x="11" y="389.4" width="4" height="1" fill="#dadada"/>
<rect x="6" y="393.4" width="10" height="2" fill="#a0a0a0"/>
<path d="M20.8,389.2 L26.8,395.2 M26.8,389.2 L20.8,395.2" stroke="#a9a9a9" stroke-width="2.3" stroke-linecap="round" fill="none" shape-rendering="auto"/>
<text x="30.900000000000002" y="397.6" font-family="'Liberation Sans', Arial, sans-serif" font-size="9.6" fill="#6a6a6a" textLength="21.1" lengthAdjust="spacingAndGlyphs">EMA</text>
<text x="56.5" y="397.6" font-family="'Liberation Sans', Arial, sans-serif" font-size="9.6" fill="#6a6a6a" textLength="15.7" lengthAdjust="spacingAndGlyphs">[50,</text>
<text x="77.39999999999999" y="397.6" font-family="'Liberation Sans', Arial, sans-serif" font-size="9.6" fill="#6a6a6a" textLength="7.5" lengthAdjust="spacingAndGlyphs">0]</text>
<text x="89.19999999999999" y="397.6" font-family="'Liberation Sans', Arial, sans-serif" font-size="9.6" fill="#6a6a6a" textLength="41.4" lengthAdjust="spacingAndGlyphs">24808.81</text>
<rect x="6" y="486.3" width="10" height="5" fill="#9c9c9c"/>
<rect x="11" y="488.3" width="4" height="1" fill="#dadada"/>
<rect x="6" y="492.3" width="10" height="2" fill="#a0a0a0"/>
<path d="M20.8,488.1 L26.8,494.1 M26.8,488.1 L20.8,494.1" stroke="#a9a9a9" stroke-width="2.3" stroke-linecap="round" fill="none" shape-rendering="auto"/>
<text x="31.0" y="496.7" font-family="'Liberation Sans', Arial, sans-serif" font-size="9.6" fill="#6a6a6a" textLength="14.6" lengthAdjust="spacingAndGlyphs">RSI</text>
<text x="50.300000000000004" y="496.7" font-family="'Liberation Sans', Arial, sans-serif" font-size="9.6" fill="#6a6a6a" textLength="16.8" lengthAdjust="spacingAndGlyphs">[14]</text>
<text x="71.6" y="496.7" font-family="'Liberation Sans', Arial, sans-serif" font-size="9.6" fill="#6a6a6a" textLength="19.8" lengthAdjust="spacingAndGlyphs">47.0</text>
<rect x="6" y="567.5" width="10" height="5" fill="#9c9c9c"/>
<rect x="11" y="569.5" width="4" height="1" fill="#dadada"/>
<rect x="6" y="573.5" width="10" height="2" fill="#a0a0a0"/>
<path d="M20.8,569.3 L26.8,575.3 M26.8,569.3 L20.8,575.3" stroke="#a9a9a9" stroke-width="2.3" stroke-linecap="round" fill="none" shape-rendering="auto"/>
<text x="31.200000000000003" y="577.8" font-family="'Liberation Sans', Arial, sans-serif" font-size="9.6" fill="#6a6a6a" textLength="18.8" lengthAdjust="spacingAndGlyphs">ADX</text>
<text x="54.4" y="577.8" font-family="'Liberation Sans', Arial, sans-serif" font-size="9.6" fill="#6a6a6a" textLength="16.6" lengthAdjust="spacingAndGlyphs">[14]</text>
<text x="75.89999999999999" y="577.8" font-family="'Liberation Sans', Arial, sans-serif" font-size="9.6" fill="#6a6a6a" textLength="21.4" lengthAdjust="spacingAndGlyphs">35.9,</text>
<text x="103.3" y="577.8" font-family="'Liberation Sans', Arial, sans-serif" font-size="9.6" fill="#6a6a6a" textLength="21.5" lengthAdjust="spacingAndGlyphs">20.1,</text>
<text x="130.0" y="577.8" font-family="'Liberation Sans', Arial, sans-serif" font-size="9.6" fill="#6a6a6a" textLength="19.2" lengthAdjust="spacingAndGlyphs">27.7</text>
<polyline points="7.5,444.8 15.9,442.6 24.2,445.6 32.5,449.9 40.8,451.7 49.0,447.7 57.4,452.9 65.7,450.7 74.0,447.5 82.2,460.7 90.5,454.1 98.9,450.9 107.2,455.1 115.5,446.6 123.8,465.1 132.1,480.8 140.4,484.7 148.7,483.7 157.0,485.9 165.3,488.9 173.6,469.8 181.9,464.7 190.2,462.5 198.5,461.7 206.8,462.5 215.1,464.9 223.4,461.7 231.7,460.5 240.0,459.8 248.3,456.8 256.6,459.2 264.9,460.0 273.2,460.0 281.5,462.9 289.8,462.9 298.1,455.9 306.4,462.5 314.7,455.1 323.0,451.7 331.3,452.7 339.6,454.9 347.9,452.9 356.2,453.7 364.5,452.9 372.8,453.7 381.1,447.7 389.4,447.7 397.7,451.7 406.0,455.0 414.3,460.8 422.6,467.8 430.9,467.8 439.2,469.8 447.5,465.8 455.8,469.3 464.1,472.9 472.4,464.7 480.7,465.9 489.0,469.0 497.3,460.2 505.6,452.6 513.9,447.5 522.1,447.5 530.5,447.5 538.8,456.6 547.0,456.8 555.4,454.9 563.6,455.9 572.0,453.7 580.2,453.7 588.5,452.7 596.9,452.7 605.1,449.5 613.5,446.6 621.8,445.8 630.0,445.8 638.4,443.6 646.6,439.9 655.0,440.7 663.2,441.9 671.5,436.8 679.9,437.9 688.1,432.6 696.5,450.7 704.8,453.7 713.1,453.7 721.4,450.0 729.6,451.7 738.0,450.7 746.2,447.8 754.6,450.9 762.9,453.7 771.1,451.7 779.5,451.7 787.8,454.9 796.1,452.9 804.4,450.0 812.6,443.8 821.0,441.7 829.2,444.9 837.6,442.8 845.9,441.7 854.1,440.7 862.5,439.7 870.8,442.8 879.1,439.0 887.4,456.0 895.6,460.0 904.0,464.8 912.2,469.6 920.6,465.8 928.9,468.5 937.2,471.7 945.5,469.6 953.8,466.9 962.1,469.0 970.4,467.9 978.7,470.0 987.0,472.1 995.2,474.8 1003.6,479.8 1011.9,483.6 1020.2,481.9 1028.5,480.9 1036.8,469.6 1045.0,458.1" fill="none" stroke="#8ce2c2" stroke-width="2" stroke-linejoin="round" shape-rendering="auto"/>
<polyline points="7.5,552.9 15.9,552.9 24.2,552.9 32.5,554.9 40.8,555.4 49.0,555.4 57.4,554.0 65.7,555.7 74.0,553.2 82.2,556.6 90.5,559.6 98.9,555.4 107.2,557.8 115.5,550.3 123.8,559.1 132.1,568.9 140.4,571.3 148.7,572.6 157.0,573.5 165.3,574.3 173.6,567.9 181.9,565.5 190.2,563.8 198.5,562.8 206.8,563.0 215.1,563.3 223.4,564.2 231.7,564.5 240.0,563.8 248.3,564.5 256.6,557.1 264.9,559.1 273.2,559.1 281.5,559.6 289.8,563.0 298.1,563.8 306.4,560.8 314.7,560.8 323.0,563.8 331.3,560.0 339.6,560.5 347.9,560.8 356.2,563.0 364.5,563.0 372.8,563.0 381.1,554.0 389.4,554.5 397.7,555.4 406.0,557.3 414.3,560.5 422.6,563.8 430.9,565.0 439.2,566.7 447.5,567.9 455.8,567.9 464.1,568.7 472.4,567.9 480.7,569.8 489.0,571.8 497.3,566.2 505.6,560.0 513.9,553.2 522.1,554.9 530.5,556.1 538.8,560.0 547.0,560.8 555.4,560.0 563.6,560.0 572.0,560.8 580.2,560.0 588.5,556.9 596.9,557.9 605.1,557.1 613.5,550.7 621.8,551.5 630.0,551.5 638.4,551.5 646.6,546.8 655.0,547.6 663.2,548.6 671.5,543.9 679.9,548.6 688.1,540.8 696.5,548.6 704.8,550.3 713.1,556.6 721.4,554.0 729.6,556.9 738.0,556.9 746.2,554.9 754.6,555.7 762.9,557.8 771.1,558.8 779.5,560.0 787.8,560.8 796.1,560.8 804.4,557.4 812.6,553.1 821.0,551.7 829.2,552.7 837.6,554.8 845.9,551.5 854.1,550.6 862.5,553.6 870.8,552.7 879.1,550.6 887.4,556.3 895.6,560.5 904.0,564.2 912.2,566.8 920.6,567.8 928.9,568.8 937.2,569.9 945.5,569.9 953.8,567.8 962.1,565.1 970.4,566.1 978.7,566.8 987.0,566.8 995.2,567.8 1003.6,569.9 1011.9,570.9 1020.2,572.0 1028.5,569.5 1036.8,568.8 1045.0,555.9" fill="none" stroke="#7cb24f" stroke-width="1.2" stroke-linejoin="round" shape-rendering="auto"/>
<polyline points="7.5,554.0 15.9,554.9 24.2,556.1 32.5,557.8 40.8,559.1 49.0,560.8 57.4,561.8 65.7,562.8 74.0,562.8 82.2,563.0 90.5,563.3 98.9,564.7 107.2,565.0 115.5,564.7 123.8,563.3 132.1,558.3 140.4,553.2 148.7,548.1 157.0,543.6 165.3,539.7 173.6,536.8 181.9,535.4 190.2,534.6 198.5,534.1 206.8,533.7 215.1,533.4 223.4,532.4 231.7,532.4 240.0,532.6 248.3,533.7 256.6,535.1 264.9,536.8 273.2,538.0 281.5,536.8 289.8,536.8 298.1,538.0 306.4,539.7 314.7,540.8 323.0,543.0 331.3,545.9 339.6,548.1 347.9,549.8 356.2,551.0 364.5,552.9 372.8,554.9 381.1,554.9 389.4,555.2 397.7,555.7 406.0,556.6 414.3,556.9 422.6,554.5 430.9,552.3 439.2,550.3 447.5,548.1 455.8,546.4 464.1,544.4 472.4,542.5 480.7,540.5 489.0,538.0 497.3,537.6 505.6,538.8 513.9,541.9 522.1,543.9 530.5,546.8 538.8,546.9 547.0,546.9 555.4,547.3 563.6,547.6 572.0,547.8 580.2,548.1 588.5,549.3 596.9,549.8 605.1,551.0 613.5,554.0 621.8,556.1 630.0,557.1 638.4,558.8 646.6,559.1 655.0,559.1 663.2,560.0 671.5,559.1 679.9,560.0 688.1,560.0 696.5,561.1 704.8,562.8 713.1,560.8 721.4,560.0 729.6,559.6 738.0,559.1 746.2,559.1 754.6,558.8 762.9,557.9 771.1,557.4 779.5,556.6 787.8,555.7 796.1,555.7 804.4,555.7 812.6,556.9 821.0,559.0 829.2,560.5 837.6,561.5 845.9,562.6 854.1,563.6 862.5,564.7 870.8,564.7 879.1,564.0 887.4,564.7 895.6,563.2 904.0,561.1 912.2,558.4 920.6,555.2 928.9,552.7 937.2,550.6 945.5,548.5 953.8,546.9 962.1,546.2 970.4,545.8 978.7,545.4 987.0,544.4 995.2,542.7 1003.6,541.0 1011.9,538.5 1020.2,536.0 1028.5,533.7 1036.8,532.8 1045.0,534.9" fill="none" stroke="#ffa646" stroke-width="1.2" stroke-linejoin="round" shape-rendering="auto"/>
<polyline points="7.5,558.8 15.9,559.1 24.2,560.0 32.5,554.5 40.8,554.0 49.0,556.1 57.4,558.8 65.7,560.0 74.0,560.8 82.2,551.0 90.5,552.9 98.9,554.0 107.2,554.0 115.5,557.8 123.8,538.8 132.1,509.2 140.4,516.8 148.7,519.9 157.0,522.4 165.3,517.2 173.6,529.0 181.9,532.4 190.2,534.6 198.5,535.4 206.8,535.8 215.1,535.1 223.4,537.1 231.7,538.0 240.0,538.0 248.3,541.9 256.6,544.2 264.9,545.1 273.2,545.1 281.5,540.0 289.8,542.2 298.1,546.9 306.4,551.0 314.7,554.0 323.0,555.7 331.3,556.9 339.6,558.8 347.9,559.1 356.2,559.6 364.5,560.0 372.8,561.1 381.1,563.8 389.4,563.8 397.7,563.8 406.0,558.8 414.3,544.7 422.6,540.0 430.9,542.7 439.2,540.0 447.5,541.9 455.8,544.7 464.1,535.9 472.4,539.7 480.7,542.7 489.0,537.6 497.3,542.5 505.6,546.9 513.9,550.7 522.1,551.8 530.5,552.9 538.8,541.9 547.0,543.9 555.4,545.6 563.6,546.8 572.0,545.9 580.2,547.3 588.5,549.0 596.9,549.5 605.1,550.3 613.5,552.0 621.8,553.2 630.0,554.0 638.4,555.2 646.6,556.6 655.0,556.9 663.2,556.9 671.5,558.8 679.9,554.0 688.1,556.6 696.5,546.9 704.8,549.8 713.1,534.1 721.4,537.1 729.6,540.0 738.0,541.0 746.2,542.7 754.6,542.7 762.9,540.8 771.1,541.9 779.5,542.7 787.8,543.9 796.1,545.1 804.4,547.1 812.6,549.6 821.0,551.7 829.2,553.6 837.6,554.8 845.9,555.9 854.1,556.9 862.5,557.3 870.8,559.8 879.1,562.6 887.4,558.8 895.6,542.1 904.0,545.8 912.2,534.9 920.6,539.5 928.9,542.7 937.2,545.4 945.5,544.8 953.8,545.8 962.1,549.0 970.4,549.6 978.7,549.0 987.0,549.6 995.2,543.1 1003.6,542.1 1011.9,532.8 1020.2,534.9 1028.5,538.1 1036.8,541.2 1045.0,545.8" fill="none" stroke="#ec6a55" stroke-width="1.2" stroke-linejoin="round" shape-rendering="auto"/>
<text x="1182.4" y="56.6" font-family="'Liberation Sans', Arial, sans-serif" font-size="12" fill="#383c40" textLength="49.5" lengthAdjust="spacingAndGlyphs">25264.03</text>
<text x="1182.4" y="91.78" font-family="'Liberation Sans', Arial, sans-serif" font-size="12" fill="#383c40" textLength="49.5" lengthAdjust="spacingAndGlyphs">25167.00</text>
<text x="1182.4" y="126.96000000000001" font-family="'Liberation Sans', Arial, sans-serif" font-size="12" fill="#383c40" textLength="49.5" lengthAdjust="spacingAndGlyphs">25069.97</text>
<text x="1182.4" y="162.14" font-family="'Liberation Sans', Arial, sans-serif" font-size="12" fill="#383c40" textLength="49.5" lengthAdjust="spacingAndGlyphs">24972.95</text>
<text x="1182.4" y="197.32" font-family="'Liberation Sans', Arial, sans-serif" font-size="12" fill="#383c40" textLength="49.5" lengthAdjust="spacingAndGlyphs">24875.92</text>
<text x="1182.4" y="232.5" font-family="'Liberation Sans', Arial, sans-serif" font-size="12" fill="#383c40" textLength="49.5" lengthAdjust="spacingAndGlyphs">24778.89</text>
<text x="1182.4" y="267.68" font-family="'Liberation Sans', Arial, sans-serif" font-size="12" fill="#383c40" textLength="49.5" lengthAdjust="spacingAndGlyphs">24681.86</text>
<text x="1182.4" y="302.86" font-family="'Liberation Sans', Arial, sans-serif" font-size="12" fill="#383c40" textLength="49.5" lengthAdjust="spacingAndGlyphs">24584.84</text>
<text x="1182.4" y="338.04" font-family="'Liberation Sans', Arial, sans-serif" font-size="12" fill="#383c40" textLength="49.5" lengthAdjust="spacingAndGlyphs">24487.81</text>
<text x="1182.4" y="373.22" font-family="'Liberation Sans', Arial, sans-serif" font-size="12" fill="#383c40" textLength="49.5" lengthAdjust="spacingAndGlyphs">24390.78</text>
<text x="1182.4" y="403.5" font-family="'Liberation Sans', Arial, sans-serif" font-size="12" fill="#383c40" textLength="49.5" lengthAdjust="spacingAndGlyphs">24293.75</text>
<text x="1182.4" y="416.8" font-family="'Liberation Sans', Arial, sans-serif" font-size="12" fill="#383c40" textLength="30.5" lengthAdjust="spacingAndGlyphs">100.0</text>
<text x="1182.4" y="440.3" font-family="'Liberation Sans', Arial, sans-serif" font-size="12" fill="#383c40" textLength="24" lengthAdjust="spacingAndGlyphs">70.0</text>
<text x="1182.4" y="479.4" font-family="'Liberation Sans', Arial, sans-serif" font-size="12" fill="#383c40" textLength="24" lengthAdjust="spacingAndGlyphs">30.0</text>
<text x="1182.4" y="504.6" font-family="'Liberation Sans', Arial, sans-serif" font-size="12" fill="#383c40" textLength="17.5" lengthAdjust="spacingAndGlyphs">0.0</text>
<text x="1182.4" y="516.1" font-family="'Liberation Sans', Arial, sans-serif" font-size="12" fill="#383c40" textLength="24" lengthAdjust="spacingAndGlyphs">58.3</text>
<text x="1182.4" y="547" font-family="'Liberation Sans', Arial, sans-serif" font-size="12" fill="#383c40" textLength="24" lengthAdjust="spacingAndGlyphs">30.5</text>
<text x="1182.4" y="579.9" font-family="'Liberation Sans', Arial, sans-serif" font-size="12" fill="#383c40" textLength="17.5" lengthAdjust="spacingAndGlyphs">2.7</text>
<rect x="1120" y="108" width="54" height="16" fill="#0b8bff"/>
<text x="1124.4" y="118.8" font-family="'Liberation Mono', 'DejaVu Sans Mono', monospace" font-size="10.6" fill="#fff" textLength="46.6" lengthAdjust="spacingAndGlyphs">25094.19</text>
<rect x="1120" y="99" width="54" height="15" fill="#0b8bff"/>
<text x="1124.4" y="109" font-family="'Liberation Mono', 'DejaVu Sans Mono', monospace" font-size="10.6" fill="#fff" textLength="46.6" lengthAdjust="spacingAndGlyphs">25121.76</text>
<rect x="1120" y="343" width="54" height="14" fill="#0b8bff"/>
<text x="1124.4" y="351.9" font-family="'Liberation Mono', 'DejaVu Sans Mono', monospace" font-size="10.6" fill="#fff" textLength="46.6" lengthAdjust="spacingAndGlyphs">24451.31</text>
<rect x="1120" y="330" width="54" height="14" fill="#0b8bff"/>
<text x="1124.4" y="340" font-family="'Liberation Mono', 'DejaVu Sans Mono', monospace" font-size="10.6" fill="#fff" textLength="46.6" lengthAdjust="spacingAndGlyphs">24483.80</text>
<path d="M1171,256.5 L1179,248 L1237,248 L1237,265 L1179,265 Z" fill="#838e96" shape-rendering="auto"/>
<text x="1181" y="261" font-family="'Liberation Sans', Arial, sans-serif" font-size="12" font-weight="bold" fill="#fff" textLength="50.6" lengthAdjust="spacingAndGlyphs">24705.74</text>
<text x="1099.6" y="391" font-family="'Liberation Sans', Arial, sans-serif" font-size="14" fill="#ff8a00" textLength="16.2" lengthAdjust="spacingAndGlyphs">22</text>
<text x="1115.9" y="391" font-family="'Liberation Sans', Arial, sans-serif" font-size="14" fill="#b4bcc3" textLength="12.6" lengthAdjust="spacingAndGlyphs">M</text>
<text x="1133.4" y="391" font-family="'Liberation Sans', Arial, sans-serif" font-size="14" fill="#ff8a00" textLength="15.4" lengthAdjust="spacingAndGlyphs">57</text>
<text x="1150.0" y="391" font-family="'Liberation Sans', Arial, sans-serif" font-size="14" fill="#b4bcc3" textLength="22.8" lengthAdjust="spacingAndGlyphs">seg</text>
<text x="7.4" y="593.6" font-family="'Liberation Sans', Arial, sans-serif" font-size="12" fill="#3d4246" textLength="59.6" lengthAdjust="spacingAndGlyphs">10.10.2025</text>
<text x="76.2" y="593.6" font-family="'Liberation Sans', Arial, sans-serif" font-size="12" fill="#3d4246" textLength="29.2" lengthAdjust="spacingAndGlyphs">02:00</text>
<text x="148.5" y="593.6" font-family="'Liberation Sans', Arial, sans-serif" font-size="12" fill="#3d4246" textLength="29.4" lengthAdjust="spacingAndGlyphs">10.10</text>
<text x="184.9" y="593.6" font-family="'Liberation Sans', Arial, sans-serif" font-size="12" fill="#3d4246" textLength="29.4" lengthAdjust="spacingAndGlyphs">19:00</text>
<text x="289.5" y="593.6" font-family="'Liberation Sans', Arial, sans-serif" font-size="12" fill="#3d4246" textLength="29.4" lengthAdjust="spacingAndGlyphs">13.10</text>
<text x="325.9" y="593.6" font-family="'Liberation Sans', Arial, sans-serif" font-size="12" fill="#3d4246" textLength="29.4" lengthAdjust="spacingAndGlyphs">14:00</text>
<text x="430.5" y="593.6" font-family="'Liberation Sans', Arial, sans-serif" font-size="12" fill="#3d4246" textLength="29.4" lengthAdjust="spacingAndGlyphs">14.10</text>
<text x="466.9" y="593.6" font-family="'Liberation Sans', Arial, sans-serif" font-size="12" fill="#3d4246" textLength="29.4" lengthAdjust="spacingAndGlyphs">08:00</text>
<text x="571.5" y="593.6" font-family="'Liberation Sans', Arial, sans-serif" font-size="12" fill="#3d4246" textLength="29.4" lengthAdjust="spacingAndGlyphs">15.10</text>
<text x="607.9" y="593.6" font-family="'Liberation Sans', Arial, sans-serif" font-size="12" fill="#3d4246" textLength="29.4" lengthAdjust="spacingAndGlyphs">02:00</text>
<text x="712.5" y="593.6" font-family="'Liberation Sans', Arial, sans-serif" font-size="12" fill="#3d4246" textLength="29.4" lengthAdjust="spacingAndGlyphs">15.10</text>
<text x="748.9" y="593.6" font-family="'Liberation Sans', Arial, sans-serif" font-size="12" fill="#3d4246" textLength="29.4" lengthAdjust="spacingAndGlyphs">19:00</text>
<text x="853.5" y="593.6" font-family="'Liberation Sans', Arial, sans-serif" font-size="12" fill="#3d4246" textLength="29.4" lengthAdjust="spacingAndGlyphs">16.10</text>
<text x="889.9" y="593.6" font-family="'Liberation Sans', Arial, sans-serif" font-size="12" fill="#3d4246" textLength="29.4" lengthAdjust="spacingAndGlyphs">13:00</text>
<text x="994.5" y="593.6" font-family="'Liberation Sans', Arial, sans-serif" font-size="12" fill="#3d4246" textLength="29.4" lengthAdjust="spacingAndGlyphs">17.10</text>
<text x="1030.9" y="593.6" font-family="'Liberation Sans', Arial, sans-serif" font-size="12" fill="#3d4246" textLength="29.4" lengthAdjust="spacingAndGlyphs">07:00</text>
<text x="1135.5" y="593.6" font-family="'Liberation Sans', Arial, sans-serif" font-size="12" fill="#3d4246" textLength="29.4" lengthAdjust="spacingAndGlyphs">18.10</text>
<text x="1171.9" y="593.6" font-family="'Liberation Sans', Arial, sans-serif" font-size="12" fill="#3d4246" textLength="29.4" lengthAdjust="spacingAndGlyphs">00:00</text>
</svg>
</body></html>
